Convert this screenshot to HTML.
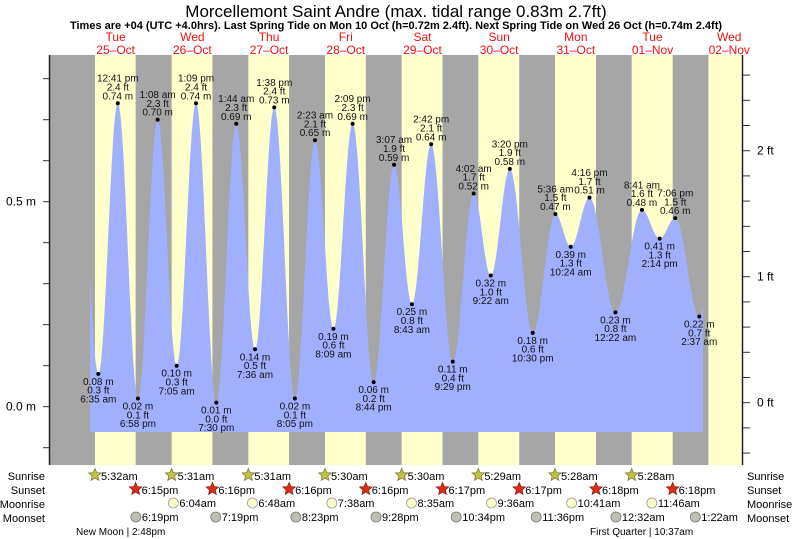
<!DOCTYPE html>
<html><head><meta charset="utf-8"><style>
body{margin:0;background:#fff}
svg{display:block;font-family:"Liberation Sans",sans-serif}
</style></head><body>
<svg id="chart" width="793" height="539" viewBox="0 0 793 539">
<text x="396" y="17" text-anchor="middle" font-size="17">Morcellemont Saint Andre (max. tidal range 0.83m 2.7ft)</text>
<text x="396" y="29" text-anchor="middle" font-size="11" font-weight="bold">Times are +04 (UTC +4.0hrs). Last Spring Tide on Mon 10 Oct (h=0.72m 2.4ft). Next Spring Tide on Wed 26 Oct (h=0.74m 2.4ft)</text>
<g id="bands"></g>
<g id="tide"></g>
<g id="axes"></g>
<g id="days"></g>
<g id="astro"></g>
</svg>
<script>
// ---- data ----
const dayNames = ["Tue","Wed","Thu","Fri","Sat","Sun","Mon","Tue","Wed"];
const dayDates = ["25\u2013Oct","26\u2013Oct","27\u2013Oct","28\u2013Oct","29\u2013Oct","30\u2013Oct","31\u2013Oct","01\u2013Nov","02\u2013Nov"];
// hours since 25 Oct 00:00
const tideHours = [0.45,6.58,12.68,18.97,25.13,31.08,37.15,43.5,49.73,55.6,61.63,68.08,74.38,80.15,86.15,92.73,99.12,104.7,110.72,117.48,124.03,129.37,135.33,142.5,149.6,154.4,160.27,168.37,176.68,182.23,187.1,194.62,200.5];
const tideMeters = [0.70,0.08,0.74,0.02,0.70,0.10,0.74,0.01,0.69,0.14,0.73,0.02,0.65,0.19,0.69,0.06,0.59,0.25,0.64,0.11,0.52,0.32,0.58,0.18,0.47,0.39,0.51,0.23,0.48,0.41,0.46,0.22,0.50];
const tideFeet = ["","0.3 ft","2.4 ft","0.1 ft","2.3 ft","0.3 ft","2.4 ft","0.0 ft","2.3 ft","0.5 ft","2.4 ft","0.1 ft","2.1 ft","0.6 ft","2.3 ft","0.2 ft","1.9 ft","0.8 ft","2.1 ft","0.4 ft","1.7 ft","1.0 ft","1.9 ft","0.6 ft","1.5 ft","1.3 ft","1.7 ft","0.8 ft","1.6 ft","1.3 ft","1.5 ft","0.7 ft",""];
const tideLabels = ["","6:35 am","12:41 pm","6:58 pm","1:08 am","7:05 am","1:09 pm","7:30 pm","1:44 am","7:36 am","1:38 pm","8:05 pm","2:23 am","8:09 am","2:09 pm","8:44 pm","3:07 am","8:43 am","2:42 pm","9:29 pm","4:02 am","9:22 am","3:20 pm","10:30 pm","5:36 am","10:24 am","4:16 pm","12:22 am","8:41 am","2:14 pm","7:06 pm","2:37 am",""];
const sunriseH = [5.53,5.52,5.52,5.5,5.5,5.48,5.47,5.47,5.47];
const sunriseT = ["5:32am","5:31am","5:31am","5:30am","5:30am","5:29am","5:28am","5:28am"];
const sunsetH = [18.25,18.27,18.27,18.27,18.28,18.28,18.3,18.3];
const sunsetT = ["6:15pm","6:16pm","6:16pm","6:16pm","6:17pm","6:17pm","6:18pm","6:18pm"];
const moonriseDay = [1,2,3,4,5,6,7];
const moonriseH = [6.07,6.8,7.63,8.58,9.6,10.68,11.77];
const moonriseT = ["6:04am","6:48am","7:38am","8:35am","9:36am","10:41am","11:46am"];
const moonsetDay = [0,1,2,3,4,5,7,8];
const moonsetH = [18.32,19.32,20.38,21.47,22.57,23.6,0.53,1.37];
const moonsetT = ["6:19pm","7:19pm","8:23pm","9:28pm","10:34pm","11:36pm","12:32am","1:22am"];

// ---- scales ----
const X0=77.3, PXH=76.7/24, L=50, R=743, TOP=55, BOT=465;
const X = h => X0 + h*PXH;
const Y = m => 406.7 - m*410;
const YF = f => 402.7 - f*126;
const NS="http://www.w3.org/2000/svg";
function mk(parent,tag,attrs,text){const e=document.createElementNS(NS,tag);for(const k in attrs)e.setAttribute(k,attrs[k]);if(text!==undefined)e.textContent=text;parent.appendChild(e);return e;}

// bands
const bands=document.getElementById('bands');
let r=mk(bands,'rect',{x:L,y:TOP,width:R-L,height:BOT-TOP,fill:'#a6a6a6'});


for(let d=0;d<sunriseH.length;d++){
  const x1=Math.max(L,X(d*24+sunriseH[d]));
  const x2=Math.min(R,d<sunsetH.length?X(d*24+sunsetH[d]):R);
  const b=mk(bands,'rect',{x:x1,y:TOP,width:x2-x1,height:BOT-TOP,fill:'#ffffcc'});
  
  
}

// tide curve (cosine interpolation)
const tide=document.getElementById('tide');
const tStart=(90-X0)/PXH, tEnd=(703-X0)/PXH;
function hAt(t){
  for(let i=0;i<tideHours.length-1;i++){
    if(t>=tideHours[i]&&t<=tideHours[i+1]){
      const f=(t-tideHours[i])/(tideHours[i+1]-tideHours[i]);
      return tideMeters[i]+(tideMeters[i+1]-tideMeters[i])*(1-Math.cos(Math.PI*f))/2;
    }
  }
  return tideMeters[tideMeters.length-1];
}
let pts=[`${X(tStart).toFixed(1)},432`];
for(let t=tStart;t<=tEnd;t+=0.1){pts.push(`${X(t).toFixed(1)},${Y(hAt(t)).toFixed(1)}`);}
pts.push(`${X(tEnd).toFixed(1)},${Y(hAt(tEnd)).toFixed(1)}`);
pts.push(`${X(tEnd).toFixed(1)},432`);
const area=mk(tide,'polygon',{points:pts.join(' '),fill:'#a0b0ff'});


for(let i=0;i<tideHours.length;i++){
  if(!tideLabels[i])continue;
  const x=X(tideHours[i]), y=Y(tideMeters[i]);
  const high = (i>0 && tideMeters[i]>tideMeters[i-1]);
  const g=mk(tide,'g',{});
  
  
  mk(g,'circle',{cx:x,cy:y,r:2,fill:'#000'});
  const a={ 'text-anchor':'middle','font-size':10,fill:'#111'};
  const lines=[tideMeters[i].toFixed(2)+' m',tideFeet[i],tideLabels[i]];
  for(let k=0;k<3;k++){
    const yy = high ? y-4-k*8.8 : y+11+k*8.8;
    mk(g,'text',Object.assign({x:x,y:yy.toFixed(1)},a),lines[k]);
  }
}

// axes
const ax=document.getElementById('axes');
mk(ax,'line',{x1:49.5,y1:TOP,x2:49.5,y2:BOT,stroke:'#222','stroke-width':1.5});
mk(ax,'line',{x1:742.5,y1:TOP,x2:742.5,y2:BOT,stroke:'#222','stroke-width':1.5});
for(let m=-0.1;m<=0.85;m+=0.1){
  const y=Y(m); if(y<TOP||y>BOT)continue;
  mk(ax,'line',{x1:43,y1:y,x2:49,y2:y,stroke:'#333'});
}
[[0,'0.0 m'],[0.5,'0.5 m']].forEach(([m,t])=>{
  const e=mk(ax,'text',{x:36,y:Y(m)+4,'text-anchor':'end','font-size':12},t);
  
  
});
for(let f=-0.4;f<=2.7;f+=0.2){
  const y=YF(f); if(y<TOP||y>BOT)continue;
  mk(ax,'line',{x1:743,y1:y,x2:750,y2:y,stroke:'#333'});
}
[[0,'0 ft'],[1,'1 ft'],[2,'2 ft']].forEach(([f,t])=>{
  const e=mk(ax,'text',{x:757,y:YF(f)+4,'font-size':12},t);
  
  
});

// day labels
const days=document.getElementById('days');
for(let d=0;d<dayNames.length;d++){
  const x=X(d*24+12);
  const g=mk(days,'g',{fill:'#ee1111','font-size':12,'text-anchor':'middle'});
  
  
  mk(g,'text',{x:x,y:41},dayNames[d]);
  mk(g,'text',{x:x,y:54},dayDates[d]);
}

// astro rows
const astro=document.getElementById('astro');
const rows=[['Sunrise',476],['Sunset',490],['Moonrise',504],['Moonset',518]];
rows.forEach(([n,y])=>{
  const a=mk(astro,'text',{x:45,y:y+4,'text-anchor':'end','font-size':11},n);
  
  
  const b=mk(astro,'text',{x:747,y:y+4,'font-size':11},n);
  
  
});
function star(cx,cy,fill,stroke){
  let p=[];for(let k=0;k<10;k++){const rr=k%2?3:6.5;const a=-Math.PI/2+k*Math.PI/5;p.push((cx+rr*Math.cos(a)).toFixed(1)+','+(cy+rr*Math.sin(a)).toFixed(1));}
  return mk(astro,'polygon',{points:p.join(' '),fill:fill,stroke:stroke,'stroke-width':0.8});
}
for(let d=0;d<sunriseT.length;d++){
  const x=X(d*24+sunriseH[d]);
  const s=star(x,475,'#c2c24a','#7d7d30');
  
  
  mk(astro,'text',{x:x+6,y:480,'font-size':11},sunriseT[d]);
}
for(let d=0;d<sunsetT.length;d++){
  const x=X(d*24+sunsetH[d]);
  const s=star(x,489,'#e02b1a','#8a2010');
  
  
  mk(astro,'text',{x:x+6,y:494,'font-size':11},sunsetT[d]);
}
for(let i=0;i<moonriseT.length;i++){
  const x=X(moonriseDay[i]*24+moonriseH[i]);
  const c=mk(astro,'circle',{cx:x,cy:503,r:5,fill:'#ffffcc',stroke:'#999','stroke-width':0.8});
  
  
  mk(astro,'text',{x:x+6,y:507,'font-size':11},moonriseT[i]);
}
for(let i=0;i<moonsetT.length;i++){
  const x=X(moonsetDay[i]*24+moonsetH[i]);
  const c=mk(astro,'circle',{cx:x,cy:517,r:5,fill:'#c0c0b0',stroke:'#777','stroke-width':0.8});
  
  
  mk(astro,'text',{x:x+6,y:521,'font-size':11},moonsetT[i]);
}
const nm=mk(astro,'text',{x:76,y:535,'font-size':10},'New Moon | 2:48pm');


const fq=mk(astro,'text',{x:590,y:535,'font-size':10},'First Quarter | 10:37am');


</script>
</body></html>
